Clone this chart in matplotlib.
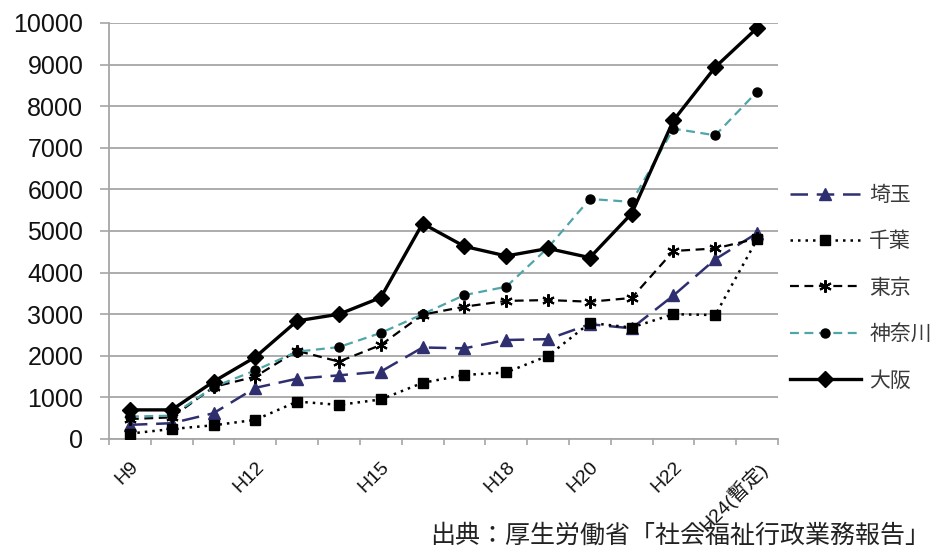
import numpy as np
import matplotlib
matplotlib.use("Agg")
import matplotlib.pyplot as plt

plt.rcParams['font.family'] = ['Liberation Sans', 'Noto Sans CJK JP', 'DejaVu Sans']

# Fiscal years H9 .. H24 (H24 is provisional)
years = ['H9', 'H10', 'H11', 'H12', 'H13', 'H14', 'H15', 'H16',
         'H17', 'H18', 'H19', 'H20', 'H21', 'H22', 'H23', 'H24(暫定)']
shown_years = ['H9', 'H12', 'H15', 'H18', 'H20', 'H22', 'H24(暫定)']

saitama = [340, 380, 620, 1230, 1450, 1530, 1620, 2200,
           2180, 2380, 2400, 2760, 2660, 3450, 4320, 4950]
chiba = [130, 240, 330, 460, 900, 820, 950, 1350,
         1540, 1600, 2000, 2790, 2680, 3000, 2980, 4800]
tokyo = [480, 520, 1250, 1500, 2120, 1860, 2260, 2990,
         3180, 3320, 3340, 3300, 3390, 4520, 4580, 4820]
kanagawa = [540, 560, 1250, 1650, 2100, 2210, 2550, 3000,
            3460, 3660, 4600, 5770, 5700, 7460, 7300, 8350]
osaka = [700, 700, 1380, 1970, 2840, 3000, 3400, 5180,
         4630, 4400, 4580, 4360, 5420, 7660, 8940, 9880]

series_names = ['埼玉', '千葉', '東京', '神奈川', '大阪']

W, H = 943, 553
fig = plt.figure(figsize=(W / 100, H / 100), dpi=100)
ax = fig.add_axes([109 / W, 1 - 439 / H, (778 - 109) / W, (439 - 23) / H])

x = np.arange(len(years))
grid_c = '#a6a6a6'

ax.plot(x, saitama, color='#2f2f70', lw=1.8, dashes=(7, 3.5),
        marker='^', ms=8, mfc='#2f2f70', mec='#2f2f70', label=series_names[0], zorder=3)
ax.plot(x, chiba, color='black', lw=1.8, dashes=(1, 2),
        marker='s', ms=7, mfc='black', mec='black', label=series_names[1], zorder=3)
ax.plot(x, tokyo, color='black', lw=1.6, dashes=(4, 2.5),
        marker=(6, 2, 0), ms=9, mew=1.5, mec='black', label=series_names[2], zorder=3)
ax.plot(x, kanagawa, color='#4fa5a8', lw=1.6, dashes=(4, 2.5),
        marker='o', ms=6.5, mfc='black', mec='black', label=series_names[3], zorder=3)
ax.plot(x, osaka, color='black', lw=2.4,
        marker='D', ms=8.5, mfc='black', mec='black', label=series_names[4], zorder=4)

ax.set_xlim(-0.5, len(years) - 0.5)
ax.set_ylim(0, 10000)
ax.set_yticks(np.arange(0, 10001, 1000))
ax.yaxis.grid(True, color=grid_c, lw=1.3)
ax.set_axisbelow(True)

for s in ('top', 'right'):
    ax.spines[s].set_visible(False)
for s in ('left', 'bottom'):
    ax.spines[s].set_color(grid_c)
    ax.spines[s].set_linewidth(1.3)

ax.tick_params(axis='y', length=6.5, width=1.2, color=grid_c, pad=12,
               labelsize=18, labelcolor='#111111')

# category boundaries carry the tick marks, labels sit at category centres
ax.set_xticks(np.arange(-0.5, len(years), 1.0), minor=True)
ax.tick_params(axis='x', which='minor', length=4, width=1.2, color=grid_c)
ax.set_xticks([years.index(y) for y in shown_years])
ax.set_xticklabels(shown_years, rotation=45, ha='right', va='top',
                   rotation_mode='anchor', fontsize=14, color='#111111')
ax.tick_params(axis='x', which='major', length=0, pad=14)

leg = ax.legend(loc='upper left', bbox_to_anchor=(790 / W, 1 - 184 / H),
                bbox_transform=fig.transFigure, frameon=False, borderpad=0,
                borderaxespad=0, handlelength=3.4, handletextpad=0.4,
                labelspacing=1.17, prop={'family': ['Noto Sans CJK JP'], 'size': 15})
for t in leg.get_texts():
    t.set_color('#3a3a3a')

fig.text(430 / W, 1 - 536 / H, '出典：厚生労働省「社会福祉行政業務報告」',
         fontsize=18, family=['Noto Sans CJK JP'], color='#222222',
         ha='left', va='center')

fig.savefig('out.png', dpi=100, facecolor='white')
